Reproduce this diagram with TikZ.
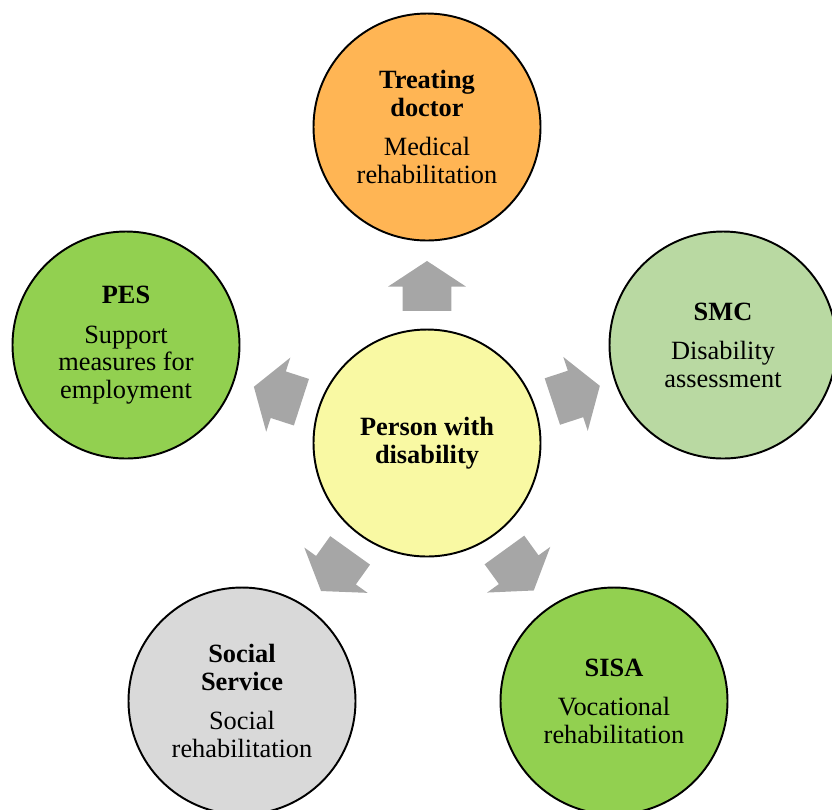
\documentclass[tikz,border=0pt]{standalone}
\usepackage{fontspec}
\setmainfont{Liberation Serif}
\usetikzlibrary{calc,shapes.arrows}
\definecolor{CareOrange}{RGB}{255,181,84}
\definecolor{CareSage}{RGB}{185,217,162}
\definecolor{CareGreen}{RGB}{146,208,80}
\definecolor{CareGrey}{RGB}{217,217,217}
\definecolor{CareYellow}{RGB}{249,249,163}
\definecolor{CareArrow}{RGB}{166,166,166}
\tikzset{
    care/diagram/.style={
        font=\fontsize{15}{15.6}\selectfont,
        text=black,
        line width=1.1pt
    },
    care/circle/.style={
        circle, draw=black, line width=1.1pt,
        minimum size=4.54cm, inner sep=0pt, align=center
    },
    care/flow/.style={
        single arrow, fill=CareArrow, draw=none,
        minimum height=1.0cm,
        single arrow head extend=0.29cm,
        single arrow tip angle=113.3,
        inner xsep=0pt, inner ysep=0.47cm
    }
}

\begin{document}
\begin{tikzpicture}[care/diagram]
    \useasboundingbox (0,0) rectangle (16.64,-16.18);
    \clip (0,0) rectangle (16.64,-16.18);
    \node[care/circle, fill=CareYellow] (person) at (8.54,-8.86)
        {\textbf{Person with}\\\textbf{disability}};
    \node[care/circle, fill=CareOrange] (doctor) at (8.54,-2.54)
        {\textbf{Treating}\\\textbf{doctor}\\[7pt]Medical\\rehabilitation};
    \node[care/circle, fill=CareSage] (smc) at (14.46,-6.90)
        {\textbf{SMC}\\[7pt]Disability\\assessment};
    \node[care/circle, fill=CareGreen] (sisa) at (12.28,-14.02)
        {\textbf{SISA}\\[7pt]Vocational\\rehabilitation};
    \node[care/circle, fill=CareGrey] (social) at (4.84,-14.02)
        {\textbf{Social}\\\textbf{Service}\\[7pt]Social\\rehabilitation};
    \node[care/circle, fill=CareGreen] (pes) at (2.52,-6.90)
        {\textbf{PES}\\[7pt]Support\\measures for\\employment};
    % block arrows from the person out to each service
    \foreach \agency/\ang in {doctor/90, smc/18.3, sisa/-54.1, social/-125.6, pes/162}
        \node[care/flow, rotate=\ang] (flow-\agency) at ($(person)+(\ang:2.98)$) {};
\end{tikzpicture}
\end{document}
